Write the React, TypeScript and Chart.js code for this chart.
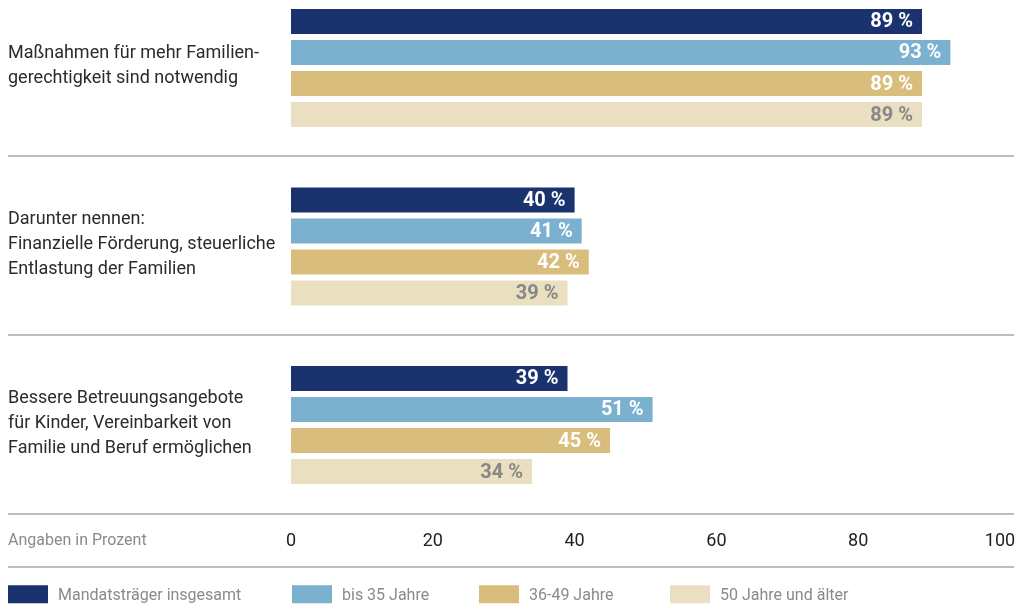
import React, { useEffect, useRef } from "react";
import { Chart, registerables } from "chart.js";

Chart.register(...registerables);

// ---- data ----
const categories: string[][] = [
  ["Maßnahmen für mehr Familien-", "gerechtigkeit sind notwendig"],
  ["Darunter nennen:", "Finanzielle Förderung, steuerliche", "Entlastung der Familien"],
  ["Bessere Betreuungsangebote", "für Kinder, Vereinbarkeit von", "Familie und Beruf ermöglichen"],
];
const seriesNames = ["Mandatsträger insgesamt", "bis 35 Jahre", "36-49 Jahre", "50 Jahre und älter"];
const totalValues = [89, 40, 39];
const upTo35Values = [93, 41, 51];
const age36to49Values = [89, 42, 45];
const age50plusValues = [89, 39, 34];
const xTickValues = [0, 20, 40, 60, 80, 100];
const axisNote = "Angaben in Prozent";

// ---- styles ----
const barColors = ["#1a326e", "#7bb0cf", "#d9bd7d", "#ebdfc1"];
const valueLabelColors = ["#ffffff", "#ffffff", "#ffffff", "#878787"];
const FONT = "Roboto";
const lineColor = "#bdbdc1";

export default function App() {
  const ref = useRef<HTMLCanvasElement | null>(null);

  useEffect(() => {
    const canvas = ref.current;
    if (!canvas) return;
    const seriesValues = [totalValues, upTo35Values, age36to49Values, age50plusValues];
    const n = categories.length;

    const overlay = {
      id: "overlay",
      afterDatasetsDraw(chart: any) {
        const ctx = chart.ctx as CanvasRenderingContext2D;
        const ys = chart.scales.y;
        const bottom = ys.getPixelForValue(n - 0.5);
        ctx.save();

        // value labels
        ctx.font = `bold 20px ${FONT}`;
        ctx.textAlign = "right";
        ctx.textBaseline = "middle";
        chart.data.datasets.forEach((ds: any, di: number) => {
          const meta = chart.getDatasetMeta(di);
          meta.data.forEach((el: any, i: number) => {
            ctx.fillStyle = valueLabelColors[di];
            ctx.fillText(`${seriesValues[di][i]} %`, el.x - 9, el.y + 1);
          });
        });

        // separator lines
        ctx.strokeStyle = lineColor;
        ctx.lineWidth = 2;
        const hline = (y: number) => {
          ctx.beginPath();
          ctx.moveTo(8, y);
          ctx.lineTo(1014, y);
          ctx.stroke();
        };
        for (let i = 0; i < n - 1; i++) {
          hline(Math.round(ys.getPixelForValue(i + 0.5)) - 1);
        }
        hline(Math.round(bottom));
        hline(Math.round(bottom) + 53);

        // category labels
        ctx.font = `18px ${FONT}`;
        ctx.fillStyle = "#2b2b2b";
        ctx.textAlign = "left";
        ctx.textBaseline = "middle";
        const lh = 25;
        categories.forEach((lines, i) => {
          const cy = ys.getPixelForValue(i) - 2;
          const y0 = cy - ((lines.length - 1) * lh) / 2;
          lines.forEach((t, k) => ctx.fillText(t, 8, y0 + k * lh));
        });

        // axis note
        ctx.font = `16px ${FONT}`;
        ctx.fillStyle = "#8a8a8a";
        ctx.fillText(axisNote, 8, bottom + 27);

        // legend
        const legendX = [8, 292, 479, 670];
        const ly = bottom + 80;
        ctx.font = `16px ${FONT}`;
        seriesNames.forEach((name, i) => {
          ctx.fillStyle = barColors[i];
          ctx.fillRect(legendX[i], ly - 9, 40, 18);
          ctx.fillStyle = "#8a8a8a";
          ctx.fillText(name, legendX[i] + 50, ly + 2);
        });

        ctx.restore();
      },
    };

    const chart = new Chart(canvas, {
      type: "bar",
      data: {
        labels: categories.map((c) => c.join(" ")),
        datasets: seriesValues.map((vals, di) => ({
          label: seriesNames[di],
          data: vals,
          backgroundColor: barColors[di],
          borderWidth: 0,
          barPercentage: 0.8,
          categoryPercentage: 0.695,
          clip: false,
        })),
      },
      options: {
        indexAxis: "y",
        responsive: false,
        animation: false,
        layout: { padding: { top: 68, left: 0, right: 16, bottom: 0 } },
        plugins: { legend: { display: false }, tooltip: { enabled: false } },
        scales: {
          y: {
            type: "category",
            offset: false,
            ticks: { display: false },
            grid: { display: false, offset: false },
            border: { display: false },
            afterFit: (s: any) => {
              s.width = 291;
            },
          },
          x: {
            type: "linear",
            min: 0,
            max: 100,
            grid: { display: false, drawTicks: false },
            border: { display: false },
            ticks: {
              color: "#222222",
              font: { family: FONT, size: 18 },
              padding: 106,
              maxRotation: 0,
            },
            afterBuildTicks: (s: any) => {
              s.ticks = xTickValues.map((v) => ({ value: v }));
            },
            afterFit: (s: any) => {
              s.height = 189;
              s.paddingLeft = 0;
              s.paddingRight = 0;
            },
          },
        },
      },
      plugins: [overlay],
    } as any);

    return () => chart.destroy();
  }, []);

  return (
    <div style={{ position: "absolute", left: 0, top: 0, width: 1016, height: 614, background: "#fff" }}>
      <canvas ref={ref} width={1016} height={614} style={{ display: "block" }} />
    </div>
  );
}
